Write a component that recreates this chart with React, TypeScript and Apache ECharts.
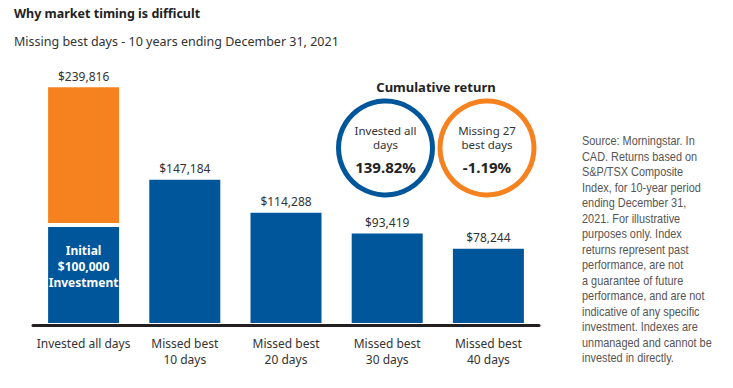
import React, { useEffect, useRef } from "react";
import * as echarts from "echarts";

const categories = [
  "Invested all days",
  "Missed best\n10 days",
  "Missed best\n20 days",
  "Missed best\n30 days",
  "Missed best\n40 days",
];
const endingValues = [239816, 147184, 114288, 93419, 78244];
const initialInvestment = 100000;
const cumulativeReturns = [
  { lines: ["Invested all", "days"], value: "139.82%", color: "#00569A" },
  { lines: ["Missing 27", "best days"], value: "-1.19%", color: "#F5821F" },
];
const sourceLines = [
  "Source: Morningstar. In",
  "CAD. Returns based on",
  "S&P/TSX Composite",
  "Index, for 10-year period",
  "ending December 31,",
  "2021. For illustrative",
  "purposes only. Index",
  "returns represent past",
  "performance, are not",
  "a guarantee of future",
  "performance, and are not",
  "indicative of any specific",
  "investment. Indexes are",
  "unmanaged and cannot be",
  "invested in directly.",
];

const BLUE = "#00569A";
const ORANGE = "#F5821F";
const FONT = "'Noto Sans', 'Open Sans', sans-serif";
const fmt = (v: number) => "$" + v.toLocaleString("en-US");

export default function App() {
  const ref = useRef<HTMLDivElement>(null);
  useEffect(() => {
    if (!ref.current) return;
    const chart = echarts.init(ref.current, undefined, { renderer: "svg" });

    const blueData = endingValues.map((v, i) =>
      i === 0
        ? {
            value: initialInvestment,
            label: {
              show: true,
              position: "inside",
              offset: [0, -9],
              formatter: "Initial\n" + fmt(initialInvestment) + "\nInvestment",
              color: "#fff",
              fontWeight: "bold",
              fontSize: 12,
              lineHeight: 16,
              fontFamily: FONT,
            },
          }
        : { value: v }
    );
    const orangeData = endingValues.map((v, i) =>
      i === 0 ? { value: v - initialInvestment } : "-"
    );

    const graphics: any[] = [
      {
        type: "text",
        style: {
          text: "Why market timing is difficult",
          x: 14,
          y: 13,
          textVerticalAlign: "middle",
          font: `bold 12.5px ${FONT}`,
          fill: "#222",
        },
      },
      {
        type: "text",
        style: {
          text: "Missing best days - 10 years ending December 31, 2021",
          x: 14,
          y: 41,
          textVerticalAlign: "middle",
          font: `12.5px ${FONT}`,
          fill: "#333",
        },
      },
      {
        type: "text",
        style: {
          text: "Cumulative return",
          x: 436,
          y: 87,
          textAlign: "center",
          textVerticalAlign: "middle",
          font: `bold 13px ${FONT}`,
          fill: "#222",
        },
      },
      {
        type: "text",
        x: 582,
        y: 133,
        scaleX: 0.82,
        style: {
          text: sourceLines.join("\n"),
          x: 0,
          y: 0,
          lineHeight: 15.5,
          textVerticalAlign: "top",
          font: `13.3px 'Liberation Sans', Arial, sans-serif`,
          fill: "#555",
        },
      },
    ];
    const centers = [385.5, 487];
    cumulativeReturns.forEach((c, i) => {
      const cx = centers[i];
      graphics.push({
        type: "circle",
        shape: { cx, cy: 148, r: 47 },
        style: { fill: "none", stroke: c.color, lineWidth: 5 },
      });
      graphics.push({
        type: "text",
        style: {
          text: c.lines.join("\n"),
          x: cx,
          y: 137.5,
          lineHeight: 14,
          textAlign: "center",
          textVerticalAlign: "middle",
          font: `11.5px ${FONT}`,
          fill: "#333",
        },
      });
      graphics.push({
        type: "text",
        style: {
          text: c.value,
          x: cx,
          y: 167,
          textAlign: "center",
          textVerticalAlign: "middle",
          font: `bold 15px ${FONT}`,
          fill: "#222",
        },
      });
    });

    chart.setOption({
      animation: false,
      grid: { left: 33, right: 194, top: 75, bottom: 63 },
      xAxis: {
        type: "category",
        data: categories,
        z: 10,
        axisLine: { lineStyle: { color: "#231F20", width: 3 } },
        axisTick: { show: false },
        axisLabel: {
          color: "#333",
          fontSize: 12,
          lineHeight: 16,
          margin: 10,
          fontFamily: FONT,
          interval: 0,
        },
      },
      yAxis: {
        type: "value",
        min: 0,
        max: 250000,
        show: false,
        splitLine: { show: false },
      },
      series: [
        {
          type: "bar",
          stack: "total",
          barWidth: 75,
          data: blueData,
          itemStyle: { color: BLUE, borderColor: "#fff", borderWidth: 2 },
          label: {
            show: true,
            position: "top",
            distance: 3,
            color: "#333",
            fontSize: 12,
            fontFamily: FONT,
            formatter: (p: any) => fmt(p.value),
          },
        },
        {
          type: "bar",
          stack: "total",
          barWidth: 75,
          data: orangeData,
          itemStyle: { color: ORANGE, borderColor: "#fff", borderWidth: 2 },
          label: {
            show: true,
            position: "top",
            distance: 3,
            color: "#333",
            fontSize: 12,
            fontFamily: FONT,
            formatter: () => fmt(endingValues[0]),
          },
        },
      ],
      graphic: graphics,
    });
    return () => chart.dispose();
  }, []);
  return (
    <div
      ref={ref}
      style={{ position: "absolute", left: 0, top: 0, width: 733, height: 388, background: "#fff" }}
    />
  );
}
